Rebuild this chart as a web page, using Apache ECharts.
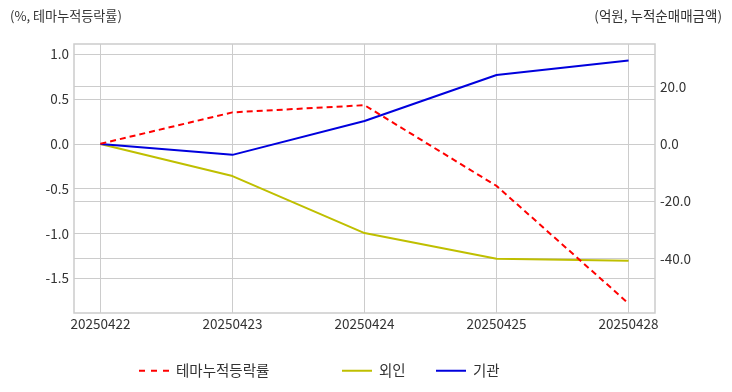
<!DOCTYPE html>
<html><head><meta charset="utf-8">
<script src="https://cdn.jsdelivr.net/npm/echarts@6/dist/echarts.min.js"></script>
<style>html,body{margin:0;padding:0;background:#fff}#c{width:732px;height:392px}</style>
</head><body><div id="c"></div>
<script>
const categories = ['20250422','20250423','20250424','20250425','20250428'];
const themeReturn = [0.0, 0.35, 0.43, -0.47, -1.78];
const foreign = [0.0, -11.2, -31.1, -40.1, -40.8];
const institution = [0.0, -3.8, 8.0, 24.1, 29.1];
const leftTicks = [1.0, 0.5, 0.0, -0.5, -1.0, -1.5];
const rightTicks = [20, 0, -20, -40];
const xTicks = [0, 1, 2, 3, 4];

const FONT = '"Noto Sans CJK KR", "Noto Sans", sans-serif';
const txt = '#333';
const gridLine = {show: true, lineStyle: {color: '#cccccc', width: 1}};
const pairs = arr => arr.map((v, i) => [i, v]);
const legendBase = {bottom: 9, itemWidth: 30, itemHeight: 10, itemGap: 10,
  textStyle: {fontFamily: FONT, fontSize: 14.5, color: txt, padding: [0, 0, 0, 2]}};

const chart = echarts.init(document.getElementById('c'));
chart.setOption({
  animation: false,
  textStyle: {fontFamily: FONT},
  grid: {left: 74, right: 77, top: 44, bottom: 79, show: true, borderColor: '#cccccc', borderWidth: 1.5, containLabel: false},
  graphic: [
    {type: 'text', left: 10, top: 9, style: {text: '(%, 테마누적등락률)', fontFamily: FONT, fontSize: 13.1, fill: txt}},
    {type: 'text', right: 10, top: 9, style: {text: '(억원, 누적순매매금액)', fontFamily: FONT, fontSize: 13.5, fill: txt}}
  ],
  legend: [
    Object.assign({}, legendBase, {left: 134, data: [{name: '테마누적등락률', icon: 'path://M0,4h6v2h-6zM12,4h6v2h-6zM24,4h6v2h-6z'}]}),
    Object.assign({}, legendBase, {left: 337, data: [{name: '외인', icon: 'path://M0,4h30v2h-30z'}]}),
    Object.assign({}, legendBase, {left: 431, data: [{name: '기관', icon: 'path://M0,4h30v2h-30z'}]})
  ],
  xAxis: {
    type: 'value', min: -0.2, max: 4.2,
    axisLine: {show: false}, axisTick: {show: false, customValues: xTicks},
    splitLine: gridLine,
    axisLabel: {customValues: xTicks, formatter: v => categories[Math.round(v)], color: txt, fontSize: 13.5, margin: 4, fontFamily: FONT}
  },
  yAxis: [
    {type: 'value', position: 'left', min: -1.886, max: 1.112,
     axisLine: {show: false}, axisTick: {show: false, customValues: leftTicks},
     splitLine: gridLine,
     axisLabel: {customValues: leftTicks, formatter: v => v.toFixed(1), color: txt, fontSize: 13.5, margin: 5, fontFamily: FONT}},
    {type: 'value', position: 'right', min: -59.0, max: 34.9,
     axisLine: {show: false}, axisTick: {show: false, customValues: rightTicks},
     splitLine: gridLine,
     axisLabel: {customValues: rightTicks, formatter: v => v.toFixed(1), color: txt, fontSize: 13.5, margin: 5, fontFamily: FONT}}
  ],
  series: [
    {name: '테마누적등락률', type: 'line', yAxisIndex: 0, data: pairs(themeReturn), symbol: 'none',
     lineStyle: {color: '#ff0000', width: 2, type: [6, 4]}, itemStyle: {color: '#ff0000'}, z: 3},
    {name: '외인', type: 'line', yAxisIndex: 1, data: pairs(foreign), symbol: 'none',
     lineStyle: {color: '#bfbf00', width: 2}, itemStyle: {color: '#bfbf00'}, z: 2},
    {name: '기관', type: 'line', yAxisIndex: 1, data: pairs(institution), symbol: 'none',
     lineStyle: {color: '#0000dd', width: 2}, itemStyle: {color: '#0000dd'}, z: 2}
  ]
});
</script></body></html>
